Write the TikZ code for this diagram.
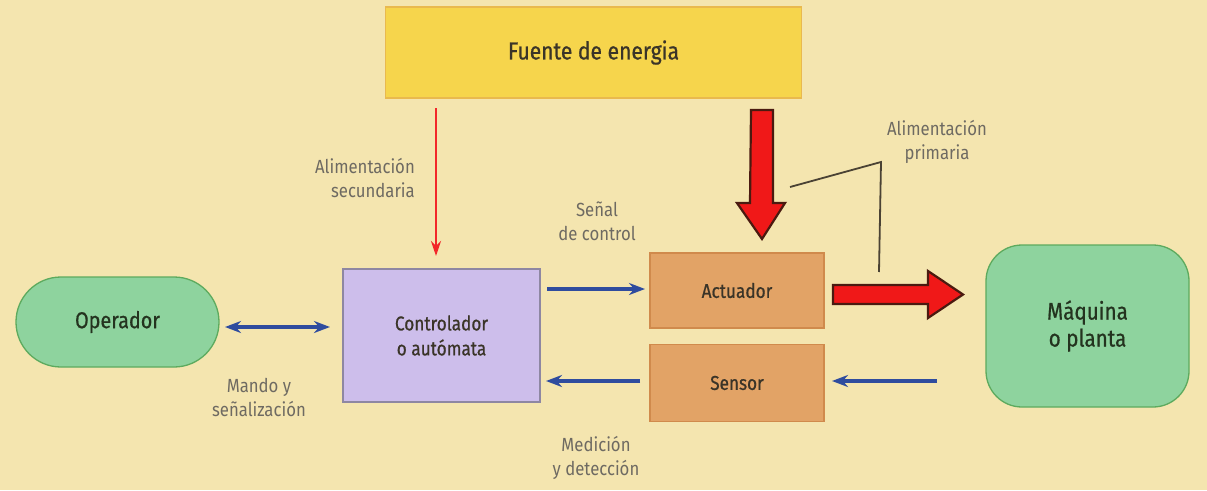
\documentclass[tikz,border=0pt]{standalone}
\usepackage{fontspec}
\setmainfont{Fira Sans}[FakeStretch=0.88]
\newfontfamily\boxfont{Fira Sans}[FakeStretch=0.86,FakeBold=0.7]
\usetikzlibrary{arrows.meta}
\definecolor{bg}{HTML}{F4E5AF}
\definecolor{yelfill}{HTML}{F6D54C}
\definecolor{yeldraw}{HTML}{E9B94E}
\definecolor{lavfill}{HTML}{CDBEEB}
\definecolor{lavdraw}{HTML}{8E87A2}
\definecolor{grnfill}{HTML}{8ED39E}
\definecolor{grndraw}{HTML}{5DAA5E}
\definecolor{orgfill}{HTML}{E2A366}
\definecolor{orgdraw}{HTML}{D08A4C}
\definecolor{arrowblue}{HTML}{2F4C9E}
\definecolor{redfill}{HTML}{F01818}
\definecolor{redline}{HTML}{4A1A10}
\definecolor{thinred}{HTML}{F2282A}
\definecolor{labgray}{HTML}{6E6A62}
\definecolor{boxtxt}{HTML}{3A3428}
\definecolor{grntxt}{HTML}{24331F}
\definecolor{calloutc}{HTML}{4A4234}
\tikzset{
  box/.style={draw, line width=1.3pt, inner sep=0pt, align=center, text=boxtxt,
    font=\boxfont\fontsize{20}{25}\selectfont},
  lab/.style={text=labgray, align=center, inner sep=0pt,
    font=\fontsize{19}{24}\selectfont},
  bluearrow/.style={draw=arrowblue, line width=3.6pt, -{Stealth[length=16pt,width=12pt]}},
  bluedouble/.style={draw=arrowblue, line width=3.6pt, {Stealth[length=16pt,width=12pt]}-{Stealth[length=16pt,width=12pt]}},
  thinredarrow/.style={draw=thinred, line width=2.4pt, -{Stealth[length=15pt,width=10pt]}},
  bigred/.style={fill=redfill, draw=redline, line width=2.2pt, line join=miter},
  callout/.style={draw=calloutc, line width=1.8pt}
}
\begin{document}
\begin{tikzpicture}[x=1pt,y=-1pt]
\fill[bg] (0,0) rectangle (1207,490);
\useasboundingbox (0,0) rectangle (1207,490);

% boxes
\node[box, fill=yelfill, draw=yeldraw, minimum width=416pt, minimum height=91pt,
  font=\boxfont\fontsize{24.5}{28}\selectfont] (fuente) at (593.5,52.5) {Fuente de energia};
\node[box, fill=lavfill, draw=lavdraw, minimum width=197pt, minimum height=133pt] (ctrl) at (441.5,335.5) {Controlador\\o autómata};
\node[box, fill=grnfill, draw=grndraw, text=grntxt, rounded corners=44.9pt, minimum width=203pt, minimum height=90pt,
  font=\boxfont\fontsize{23}{28}\selectfont] (oper) at (117.5,322) {Operador};
\node[box, fill=orgfill, draw=orgdraw, minimum width=174pt, minimum height=75pt] (act) at (737,290.5) {Actuador};
\node[box, fill=orgfill, draw=orgdraw, minimum width=174pt, minimum height=77pt] (sens) at (737,383) {Sensor};
\node[box, fill=grnfill, draw=grndraw, text=grntxt, rounded corners=36pt, minimum width=203pt, minimum height=162pt,
  font=\boxfont\fontsize{24}{27}\selectfont] (maq) at (1087.5,326) {Máquina\\o planta};

% labels
\node[lab, align=right, anchor=east] (lsec) at (415,178) {Alimentación\\secundaria};
\node[lab] (lsen) at (597,221) {Señal\\de control};
\node[lab] (lman) at (259,397) {Mando y\\señalización};
\node[lab] (lmed) at (596,458) {Medición\\y detección};
\node[lab] (lpri) at (937,142) {Alimentación\\primaria};

% thin red arrow
\coordinate (r1s) at (436,108);
\coordinate (r1e) at (436,256);
\draw[thinredarrow] (r1s) -- (r1e);

% blue arrows
\coordinate (d1) at (225,327);
\coordinate (d2) at (330,327);
\draw[bluedouble] (d1) -- (d2);
\coordinate (c1) at (547,289);
\coordinate (c2) at (645,289);
\draw[bluearrow] (c1) -- (c2);
\coordinate (m1) at (640,381);
\coordinate (m2) at (546,381);
\draw[bluearrow] (m1) -- (m2);
\coordinate (p1) at (937,381);
\coordinate (p2) at (832,381);
\draw[bluearrow] (p1) -- (p2);

% big red arrows
\coordinate (bd) at (762,110);
\draw[bigred] (bd) ++(-11,0) -- ++(22,0) -- ++(0,93) -- ++(12,0) -- ++(-23,36) -- ++(-25,-36) -- ++(13,0) -- cycle;
\coordinate (br) at (833,294.5);
\draw[bigred] (br) ++(0,-9.5) -- ++(95,0) -- ++(0,-14) -- ++(35,23.5) -- ++(-35,23.5) -- ++(0,-14) -- ++(-95,0) -- cycle;

% callout line
\coordinate (k1) at (790,187);
\coordinate (k2) at (881,162);
\coordinate (k3) at (879,272);
\draw[callout] (k1) -- (k2) -- (k3);
\end{tikzpicture}
\end{document}
